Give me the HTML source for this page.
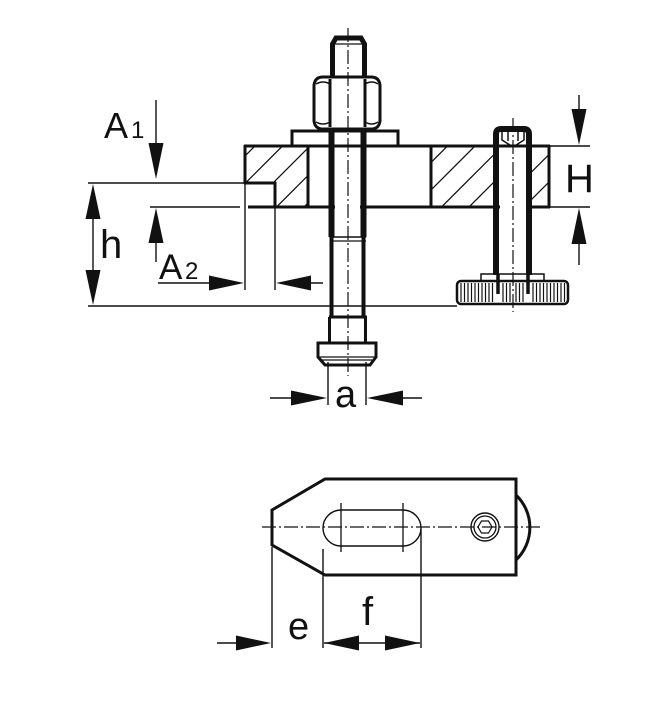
<!DOCTYPE html>
<html>
<head>
<meta charset="utf-8">
<style>
  html,body{margin:0;padding:0;background:#fff;}
  svg{display:block;}
  text{font-family:"Liberation Sans",sans-serif;fill:#111;}
</style>
</head>
<body>
<svg width="651" height="706" viewBox="0 0 651 706" xmlns="http://www.w3.org/2000/svg">
  <defs>
    <clipPath id="hl">
      <polygon points="245,146 308,146 308,207 275,207 275,183 245,183"/>
    </clipPath>
    <clipPath id="hr">
      <rect x="431" y="146" width="62" height="61"/>
      <rect x="532" y="146" width="17" height="61"/>
    </clipPath>
  </defs>

  <g stroke="#111" fill="none" stroke-linecap="butt">
    <!-- hatching -->
    <g stroke-width="1.3" clip-path="url(#hl)">
      <line x1="101" y1="300" x2="301" y2="100"/>
      <line x1="128.5" y1="300" x2="328.5" y2="100"/>
      <line x1="156" y1="300" x2="356" y2="100"/>
      <line x1="183.5" y1="300" x2="383.5" y2="100"/>
      <line x1="211" y1="300" x2="411" y2="100"/>
    </g>
    <g stroke-width="1.3" clip-path="url(#hr)">
      <line x1="293.5" y1="300" x2="493.5" y2="100"/>
      <line x1="321" y1="300" x2="521" y2="100"/>
      <line x1="348.5" y1="300" x2="548.5" y2="100"/>
      <line x1="376" y1="300" x2="576" y2="100"/>
      <line x1="403.5" y1="300" x2="603.5" y2="100"/>
      <line x1="431" y1="300" x2="631" y2="100"/>
      <line x1="458.5" y1="300" x2="658.5" y2="100"/>
    </g>

    <!-- plate outline -->
    <g stroke-width="3">
      <line x1="244" y1="146" x2="550" y2="146"/>
      <line x1="245" y1="145" x2="245" y2="184"/>
      <line x1="244" y1="183" x2="276" y2="183"/>
      <line x1="275" y1="182" x2="275" y2="208"/>
      <line x1="248" y1="207" x2="335" y2="207"/>
      <line x1="360" y1="207" x2="500" y2="207"/>
      <line x1="526" y1="207" x2="550" y2="207"/>
      <line x1="308" y1="146" x2="308" y2="207"/>
      <line x1="431" y1="146" x2="431" y2="207"/>
      <line x1="549" y1="145" x2="549" y2="208"/>
    </g>

    <!-- washer -->
    <rect x="292" y="131" width="106" height="15" stroke-width="3"/>
    <!-- nut -->
    <path d="M314,85 Q315,77 323,77 L371,77 Q379,77 380,85 L380,121 Q379,129 371,129 L323,129 Q315,129 314,121 Z" stroke-width="3" fill="#fff"/>
    <line x1="330" y1="79" x2="330" y2="127" stroke-width="3"/>
    <line x1="365" y1="79" x2="365" y2="127" stroke-width="3"/>
    <path d="M316,84 Q323,80 330,84 M365,84 Q372,80 378,84 M316,122 Q323,126 330,122 M365,122 Q372,126 378,122" stroke-width="1.5"/>
    <!-- stud top -->
    <path d="M332.5,77 L332.5,44 L336,38 L361,38 L364.5,44 L364.5,77" stroke-width="5"/>
    <line x1="335" y1="44" x2="362" y2="44" stroke-width="1.3"/>

    <!-- bolt shank -->
    <line x1="331.5" y1="131" x2="331.5" y2="237" stroke-width="6"/>
    <line x1="363.5" y1="131" x2="363.5" y2="237" stroke-width="6"/>
    <line x1="331.5" y1="237" x2="331.5" y2="317" stroke-width="4"/>
    <line x1="363.5" y1="237" x2="363.5" y2="317" stroke-width="4"/>
    <line x1="330" y1="237" x2="366" y2="237" stroke-width="1.5"/>
    <line x1="330" y1="241" x2="366" y2="241" stroke-width="1.3"/>
    <line x1="329" y1="317" x2="367" y2="317" stroke-width="3"/>
    <line x1="329.5" y1="317" x2="329.5" y2="343" stroke-width="3"/>
    <line x1="365.5" y1="317" x2="365.5" y2="343" stroke-width="3"/>
    <!-- collar -->
    <path d="M318,343 L376,343 L376,357 L370,365 L325,365 L318,357 Z" stroke-width="3" fill="#fff"/>
    <line x1="318" y1="357" x2="376" y2="357" stroke-width="1.3"/>
    <line x1="322" y1="360" x2="372" y2="360" stroke-width="1.3"/>

    <!-- screw -->
    <path d="M496,275 L496,134 Q496,129 501,129 L524,129 Q529,129 529,134 L529,275" stroke-width="6"/>
    <path d="M502,132 L502,140 L513,147 L524,140 L524,132 M508,132 L508,141 M518,132 L518,141" stroke-width="1.5"/>
    <line x1="498" y1="274" x2="498" y2="294" stroke-width="3.5"/>
    <line x1="528" y1="274" x2="528" y2="294" stroke-width="3.5"/>
    <rect x="481" y="274" width="63" height="7" stroke-width="1.5"/>
    <rect x="457" y="281" width="111" height="23" rx="4" stroke-width="2.5"/>
    <g stroke-width="1.2">
      <line x1="461" y1="283" x2="461" y2="302"/><line x1="464.5" y1="283" x2="464.5" y2="302"/>
      <line x1="468" y1="283" x2="468" y2="302"/><line x1="471.5" y1="283" x2="471.5" y2="302"/>
      <line x1="475" y1="283" x2="475" y2="302"/><line x1="478.5" y1="283" x2="478.5" y2="302"/>
      <line x1="482" y1="283" x2="482" y2="302"/><line x1="485.5" y1="283" x2="485.5" y2="302"/>
      <line x1="489" y1="283" x2="489" y2="302"/><line x1="492.5" y1="283" x2="492.5" y2="302"/>
      <line x1="503" y1="283" x2="503" y2="302"/><line x1="506.5" y1="283" x2="506.5" y2="302"/>
      <line x1="510" y1="283" x2="510" y2="302"/><line x1="516" y1="283" x2="516" y2="302"/>
      <line x1="519.5" y1="283" x2="519.5" y2="302"/><line x1="523" y1="283" x2="523" y2="302"/>
      <line x1="533" y1="283" x2="533" y2="302"/><line x1="536.5" y1="283" x2="536.5" y2="302"/>
      <line x1="540" y1="283" x2="540" y2="302"/><line x1="543.5" y1="283" x2="543.5" y2="302"/>
      <line x1="547" y1="283" x2="547" y2="302"/><line x1="550.5" y1="283" x2="550.5" y2="302"/>
      <line x1="554" y1="283" x2="554" y2="302"/><line x1="557.5" y1="283" x2="557.5" y2="302"/>
      <line x1="561" y1="283" x2="561" y2="302"/><line x1="564.5" y1="283" x2="564.5" y2="302"/>
    </g>

    <!-- centerlines -->
    <g stroke-width="1.2" stroke-dasharray="14,3,2,3">
      <line x1="348" y1="28" x2="348" y2="376"/>
      <line x1="513" y1="118" x2="513" y2="312"/>
      <line x1="262" y1="527" x2="542" y2="527"/>
    </g>

    <!-- dimension / extension lines (thin) -->
    <g stroke-width="1.4">
      <line x1="88" y1="183" x2="244" y2="183"/>
      <line x1="88" y1="306" x2="457" y2="306"/>
      <line x1="150" y1="207" x2="240" y2="207"/>
      <line x1="245" y1="184" x2="245" y2="290"/>
      <line x1="275" y1="208" x2="275" y2="290"/>
      <line x1="93" y1="190" x2="93" y2="300"/>
      <line x1="156" y1="100" x2="156" y2="150"/>
      <line x1="156" y1="230" x2="156" y2="262"/>
      <line x1="158" y1="283" x2="220" y2="283"/>
      <line x1="300" y1="283" x2="323" y2="283"/>
      <line x1="549" y1="146" x2="590" y2="146"/>
      <line x1="549" y1="207" x2="590" y2="207"/>
      <line x1="579" y1="95" x2="579" y2="120"/>
      <line x1="579" y1="235" x2="579" y2="265"/>
      <line x1="328" y1="362" x2="328" y2="405"/>
      <line x1="366" y1="362" x2="366" y2="405"/>
      <line x1="270" y1="398" x2="300" y2="398"/>
      <line x1="395" y1="398" x2="422" y2="398"/>
      <line x1="272" y1="547" x2="272" y2="648"/>
      <line x1="323" y1="549" x2="323" y2="648"/>
      <line x1="421" y1="529" x2="421" y2="648"/>
      <line x1="217" y1="643" x2="245" y2="643"/>
      <line x1="324" y1="643" x2="420" y2="643"/>
    </g>

    <!-- bottom view -->
    <path d="M272,510 L325,479 L516,479 L516,575 L325,575 L272,545 Z" stroke-width="3" stroke-linejoin="miter"/>
    <path d="M516,495 A45,45 0 0 1 516,560" stroke-width="3"/>
    <rect x="323" y="510" width="98" height="36" rx="18" stroke-width="1.4"/>
    <line x1="341" y1="503" x2="341" y2="552" stroke-width="1.3"/>
    <line x1="403" y1="503" x2="403" y2="552" stroke-width="1.3"/>
    <circle cx="485" cy="527" r="14" stroke-width="1.4"/>
    <circle cx="485" cy="527" r="11" stroke-width="1.3"/>
    <polygon points="492,527 488.5,533 481.5,533 478,527 481.5,521 488.5,521" stroke-width="1.2"/>
  </g>

  <!-- arrowheads -->
  <g fill="#111" stroke="none">
    <polygon points="156,179 148.5,143 163.5,143"/>
    <polygon points="93,184 85.5,219 100.5,219"/>
    <polygon points="93,305 85.5,270 100.5,270"/>
    <polygon points="156,208 148.5,243 163.5,243"/>
    <polygon points="244,283 209,275.5 209,290.5"/>
    <polygon points="276,283 311,275.5 311,290.5"/>
    <polygon points="579,145 571.5,109 586.5,109"/>
    <polygon points="579,208 571.5,244 586.5,244"/>
    <polygon points="327,398 291,390.5 291,405.5"/>
    <polygon points="367,398 403,390.5 403,405.5"/>
    <polygon points="271,643 236,635.5 236,650.5"/>
    <polygon points="324,643 359,635.5 359,650.5"/>
    <polygon points="420,643 385,635.5 385,650.5"/>
  </g>

  <!-- labels -->
  <text x="104" y="138" font-size="36">A</text>
  <text x="131" y="138" font-size="24">1</text>
  <text x="100" y="258" font-size="40">h</text>
  <text x="159" y="279" font-size="35">A</text>
  <text x="185" y="279" font-size="24">2</text>
  <text x="565" y="192" font-size="40">H</text>
  <text x="335" y="407" font-size="38">a</text>
  <text x="288" y="639" font-size="38">e</text>
  <text x="362" y="625" font-size="40">f</text>
</svg>
</body>
</html>
